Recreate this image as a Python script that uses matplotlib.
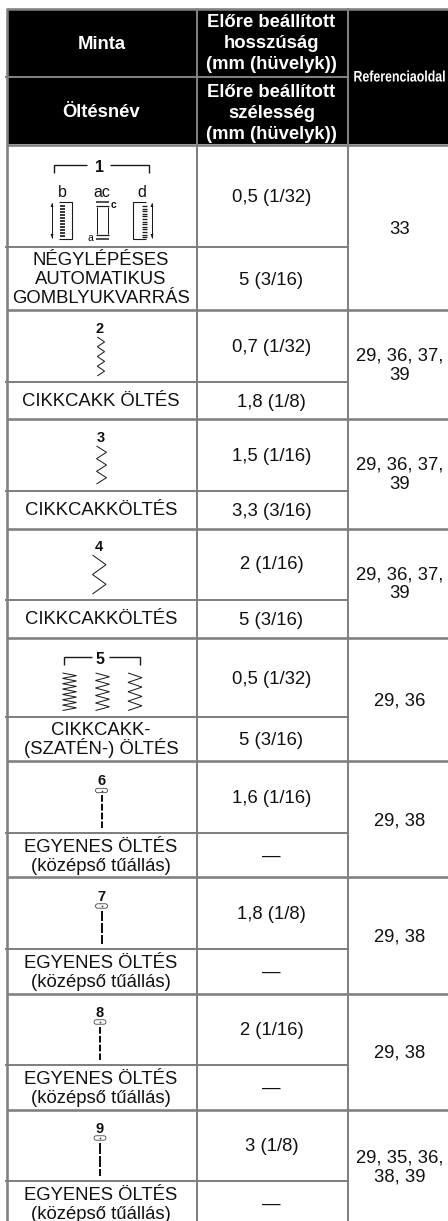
import numpy as np
import matplotlib
matplotlib.use('Agg')
import matplotlib.pyplot as plt
from matplotlib.patches import Rectangle, FancyBboxPatch
from matplotlib.patheffects import AbstractPathEffect
from matplotlib.transforms import Affine2D

plt.rcParams['font.family'] = ['Liberation Sans', 'DejaVu Sans']

# table content
header_left = ['Minta', 'Öltésnév']
header_mid = [['Előre beállított', 'hosszúság', '(mm (hüvelyk))'],
              ['Előre beállított', 'szélesség', '(mm (hüvelyk))']]
header_ref = 'Referenciaoldal'
stitch_names = [['NÉGYLÉPÉSES', 'AUTOMATIKUS', 'GOMBLYUKVARRÁS'],
                ['CIKKCAKK ÖLTÉS'],
                ['CIKKCAKKÖLTÉS'],
                ['CIKKCAKKÖLTÉS'],
                ['CIKKCAKK-', '(SZATÉN-) ÖLTÉS'],
                ['EGYENES ÖLTÉS', '(középső tűállás)'],
                ['EGYENES ÖLTÉS', '(középső tűállás)'],
                ['EGYENES ÖLTÉS', '(középső tűállás)'],
                ['EGYENES ÖLTÉS', '(középső tűállás)']]
lengths = ['0,5 (1/32)', '0,7 (1/32)', '1,5 (1/16)', '2 (1/16)', '0,5 (1/32)',
           '1,6 (1/16)', '1,8 (1/8)', '2 (1/16)', '3 (1/8)']
widths = ['5 (3/16)', '1,8 (1/8)', '3,3 (3/16)', '5 (3/16)', '5 (3/16)',
          '—', '—', '—', '—']
refs = [['33'],
        ['29, 36, 37,', '39'],
        ['29, 36, 37,', '39'],
        ['29, 36, 37,', '39'],
        ['29, 36'],
        ['29, 38'],
        ['29, 38'],
        ['29, 38'],
        ['29, 35, 36,', '38, 39']]

# layout, in pixels of the picture
row_tops = [144.5, 310, 419, 529, 638, 761, 877, 993.5, 1109.5]
row_mids = [246.5, 382, 491, 600, 717, 833, 949, 1065, 1181]
length_y = [195, 345, 454, 562, 677, 796, 912, 1028, 1144]
width_y = [278, 400, 509, 618, 738, 854, 970, 1086, 1202]
ref_y = [227, 354, 463, 572.5, 699, 819, 935, 1051, 1156]
name_y = [258, 399, 508, 617, 728, 845, 961, 1077, 1193]
LINE = 19.3
X_L, X_1, X_2 = 7.2, 196.5, 347.5
C_0, C_1, C_2 = 101, 271.5, 399.5
FS = 13.3
GREY = '#808080'
INK = '#111111'

fig = plt.figure(figsize=(4.48, 12.21), dpi=100)
ax = fig.add_axes([0, 0, 1, 1])
ax.set_xlim(0, 448)
ax.set_ylim(1221, 0)
ax.axis('off')


class Squeeze(AbstractPathEffect):
    # narrows a text sideways around a fixed x, the header cell uses a condensed face
    def __init__(self, x_px, sx):
        super().__init__()
        self.x_px = x_px
        self.sx = sx

    def draw_path(self, renderer, gc, tpath, affine, rgbFace=None):
        squeeze = Affine2D().translate(-self.x_px, 0).scale(self.sx, 1).translate(self.x_px, 0)
        renderer.draw_path(gc, tpath, affine + squeeze, rgbFace)


def txt(x, y, s, color=INK, size=FS, weight='normal', **kw):
    # y is the middle of the capital letters
    ax.text(x, y + size * 0.49, s, color=color, fontsize=size, fontweight=weight,
            ha='center', va='baseline', **kw)


def seg(xs, ys, lw=1.0, color='#1a1a1a', **kw):
    ax.plot(xs, ys, color=color, lw=lw * 0.72, solid_capstyle='butt',
            solid_joinstyle='miter', **kw)


def zigzag(x0, x1, y0, y1, peaks, lw=1.0):
    n = peaks * 2 + 1
    ys = np.linspace(y0, y1, n)
    xs = [x0 if i % 2 == 0 else x1 for i in range(n)]
    seg(xs, ys, lw=lw)


def bracket(x0, x1, y, gap0, gap1):
    seg([x0, x0, gap0], [y + 8, y, y], lw=1.4)
    seg([gap1, x1, x1], [y, y, y + 8], lw=1.4)


def needle(x, y0, label, dash):
    txt(x, y0 - 10.5, label, size=10.5, weight='bold')
    ax.add_patch(FancyBboxPatch((x - 6, y0 - 2.2), 12, 4.4, boxstyle='round,pad=0,rounding_size=2.2',
                                fc='white', ec='#333333', lw=0.55))
    seg([x - 1, x + 1], [y0, y0], lw=0.6)
    seg([x, x], [y0 - 1, y0 + 1], lw=0.6)
    seg([x, x], [y0 + 4.5, y0 + 37.5], lw=2.0, color='#111111', dashes=(dash, 1.0))


def arrow(x, y0, y1):
    seg([x, x], [y0, y1], lw=1.0)
    ax.fill([x - 1.5, x + 1.5, x], [y0 + 4, y0 + 4, y0], color='#1a1a1a', lw=0)
    ax.fill([x - 1.5, x + 1.5, x], [y1 - 4, y1 - 4, y1], color='#1a1a1a', lw=0)


# header block
ax.add_patch(Rectangle((X_L, 9), 448 - X_L, 135, fc='black', ec='none'))

# stitch diagrams
bracket(53.5, 149, 165, 87, 110)
txt(99.5, 166, '1', size=11.5, weight='bold')
txt(62, 191, 'b', size=11.5)
txt(102, 191, 'ac', size=11.5)
txt(142, 191, 'd', size=11.5)
seg([59, 72, 72, 59], [201.5, 201.5, 238.5, 238.5], lw=1.1)
arrow(52, 203, 238)
for yy in np.arange(206, 238, 3):
    seg([59.5, 65], [yy, yy], lw=1.7)
seg([96, 109], [202, 202], lw=1.5)
seg([96, 109], [205.5, 205.5], lw=1.2)
seg([97, 97], [207, 234], lw=1)
seg([108, 108], [207, 234], lw=1)
seg([96, 109], [235, 235], lw=1.2)
seg([96, 109], [238.5, 238.5], lw=1.5)
txt(113.5, 204, 'c', size=7.5, weight='bold')
txt(90, 237, 'a', size=7.5)
seg([146, 133, 133, 146], [201.5, 201.5, 238.5, 238.5], lw=1.1)
arrow(152, 203, 238)
for yy in np.arange(206, 238, 2.6):
    seg([142, 146.5], [yy, yy], lw=1.3)

txt(100, 328, '2', size=10.5, weight='bold')
zigzag(97.3, 104.6, 337, 376, 4)
txt(101, 437, '3', size=10.5, weight='bold')
zigzag(96.5, 106.5, 446, 484, 3)
txt(99, 546, '4', size=10.5, weight='bold')
zigzag(92.5, 106, 555, 594, 2)
bracket(63.5, 140, 657, 92, 109)
txt(100.5, 658, '5', size=11.5, weight='bold')
for x0, peaks in zip([62.5, 95.5, 128], [7, 5, 4]):
    zigzag(x0, x0 + 14, 673, 710.5, peaks)
for x, y0, label, dash in zip([101.5, 101.5, 100, 100], [790.5, 906, 1022, 1138], '6789',
                              [3.4, 5.0, 3.4, 5.5]):
    needle(x, y0, label, dash)

# rules
rule = dict(color=GREY, solid_capstyle='butt')
ax.plot([X_L, 448], [9, 9], lw=2.6 * 0.72, **rule)
for y in row_tops:
    ax.plot([X_L, 448], [y, y], lw=2.6 * 0.72, **rule)
for y in [76.5] + row_mids:
    ax.plot([5, X_2], [y, y], lw=2.0 * 0.72, **rule)
ax.plot([X_L, X_L], [8, 1221], lw=2.6 * 0.72, **rule)
ax.plot([X_1, X_1], [8, 1221], lw=2.0 * 0.72, **rule)
ax.plot([X_2, X_2], [8, 1221], lw=2.0 * 0.72, **rule)

# header text
txt(C_0 + 1, 42, header_left[0], color='white', weight='bold')
txt(C_0, 110, header_left[1], color='white', weight='bold')
for lines, y0 in zip(header_mid, [20, 90]):
    for i, s in enumerate(lines):
        txt(C_1, y0 + i * 21.3, s, color='white', weight='bold')
t = ax.text(446, 76 + 5.5, header_ref, color='white', fontsize=11, fontweight='bold',
            ha='right', va='baseline')
t.set_path_effects([Squeeze(446 * fig.dpi / 100, 0.81)])

# body text
for i in range(len(stitch_names)):
    for j, s in enumerate(stitch_names[i]):
        txt(C_0, name_y[i] + j * LINE, s)
    txt(C_1, length_y[i], lengths[i])
    txt(C_1, width_y[i], widths[i])
    for j, s in enumerate(refs[i]):
        txt(C_2, ref_y[i] + j * LINE, s)

fig.savefig('out.png', dpi=100, facecolor='white')
